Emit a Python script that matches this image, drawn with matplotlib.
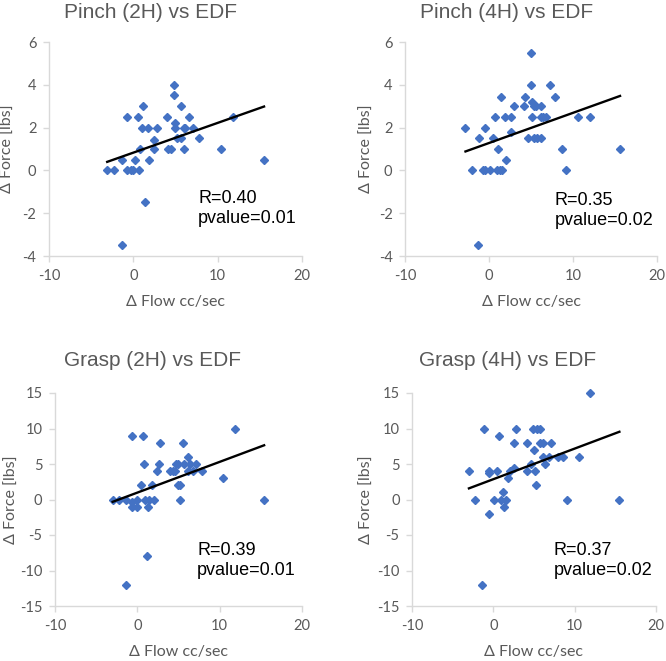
import numpy as np
import matplotlib.pyplot as plt

plt.rcParams["axes.unicode_minus"] = False

# scatter data (delta flow, delta force)
pinch2_x = [-3.1, -2.3, -1.4, -0.8, -0.8, -0.3, 0.0, 0.2, 0.6, 0.7, 0.8, 1.0, 1.2,
            1.35, 1.7, 1.8, 2.5, 2.5, 2.75, 4.0, 4.1, 4.5, 4.8, 4.8, 4.9, 4.9, 5.2,
            5.6, 5.7, 6.0, 6.1, 6.05, 6.65, 7.1, 7.8, 10.4, 11.8, 15.5, -1.4]
pinch2_y = [0, 0, 0.5, 2.5, 0, 0, 0, 0.5, 2.5, 0, 1.0, 2.0, 3.0,
            -1.5, 2.0, 0.5, 1.0, 1.4, 2.0, 2.5, 1.0, 1.0, 4.0, 3.5, 2.2, 2.0, 1.5,
            3.0, 1.5, 2.0, 2.0, 1.0, 2.5, 2.0, 1.5, 1.0, 2.5, 0.5, -3.5]

pinch4_x = [-2.8, -2.0, -1.15, -1.3, -0.7, -0.5, -0.45, 0.1, 0.45, 0.75, 0.9, 1.1,
            1.25, 1.4, 1.55, 1.85, 2.0, 2.6, 2.6, 2.95, 4.15, 4.3, 4.6, 4.95, 4.95,
            5.1, 5.1, 5.3, 5.4, 5.6, 5.7, 6.2, 6.2, 6.2, 6.4, 6.8, 7.3, 7.9, 8.7,
            9.2, 10.6, 12.0, 15.6]
pinch4_y = [2.0, 0, 1.5, -3.5, 0, 0, 2.0, 0, 1.5, 2.5, 0, 1.0,
            0, 3.45, 0, 2.5, 0.5, 2.5, 1.8, 3.0, 3.0, 3.45, 1.5, 5.5, 4.0,
            3.2, 2.5, 1.5, 3.0, 3.0, 1.5, 3.0, 2.5, 1.5, 2.5, 2.5, 4.0, 3.45, 1.0,
            0, 2.5, 2.5, 1.0]

grasp2_x = [-3.0, -2.2, -1.35, -1.4, -0.65, -0.65, -0.6, 0.0, 0.0, 0.4, 0.7, 0.85,
            0.9, 1.15, 1.35, 1.45, 1.8, 2.0, 2.4, 2.6, 2.75, 4.0, 4.3, 4.55, 4.75,
            4.9, 4.95, 5.15, 5.15, 5.55, 5.65, 6.1, 6.15, 6.35, 6.75, 7.1, 7.9,
            10.4, 11.9, 15.4]
grasp2_y = [0, 0, 0, -12, -0.4, -1, 9, 0, -1, 2, 9, 5,
            0, -8, -1, 0, 2, 0, 4, 5, 8, 4, 4, 4, 5,
            5, 2, 2, 0, 8, 5, 6, 4, 5, 4, 5, 4,
            3, 10, 0]

grasp4_x = [-3.0, -2.2, -1.2, -1.35, -0.55, -0.55, -0.55, 0.1, 0.4, 0.7, 0.9, 1.2,
            1.35, 1.5, 1.85, 2.0, 2.5, 2.6, 2.8, 4.1, 4.2, 4.6, 4.9, 4.95, 5.1,
            5.2, 5.4, 5.7, 5.7, 6.1, 6.15, 6.3, 6.8, 7.1, 8.0, 8.6, 9.05, 10.5,
            11.9, 15.5]
grasp4_y = [4, 0, 10, -12, 3.7, 4, -2, 0, 4, 9, 0, 1,
            -1, 0, 3, 4, 4.4, 8, 10, 8, 4, 5, 10, 7, 4,
            2, 10, 10, 8, 6, 8, 5, 6, 8, 6, 6, 0, 6,
            15, 0]

# trend lines (slope, intercept)
fits = [(0.139, 0.83), (0.141, 1.28), (0.433, 0.97), (0.431, 2.86)]

titles = ["Pinch (2H) vs EDF", "Pinch (4H) vs EDF", "Grasp (2H) vs EDF", "Grasp (4H) vs EDF"]
stats = ["R=0.40\npvalue=0.01", "R=0.35\npvalue=0.02",
         "R=0.39\npvalue=0.01", "R=0.37\npvalue=0.02"]
xs = [pinch2_x, pinch4_x, grasp2_x, grasp4_x]
ys = [pinch2_y, pinch4_y, grasp2_y, grasp4_y]
ylims = [(-4, 6), (-4, 6), (-15, 15), (-15, 15)]
ysteps = [2, 2, 5, 5]

W, H = 666, 661
# axes boxes in pixels: left, top, right, bottom
boxes = [(49, 42, 302, 256), (405, 42, 657, 256),
         (55, 393, 302, 606), (412, 393, 656, 606)]
title_pos = [(151, 12), (507, 12), (152, 361), (508, 361)]
stat_pos = [(0.589, 0.308), (0.593, 0.30), (0.576, 0.302), (0.58, 0.302)]
ylab_px = [15, 374, 19, 374]   # right edge of the rotated y label

grey = "#595959"
axis_grey = "#d9d9d9"
blue = "#4472c4"
tick_font = "Lato"

fig = plt.figure(figsize=(W / 100, H / 100), dpi=100)

for i in range(4):
    l, t, r, b = boxes[i]
    ax = fig.add_axes([l / W, 1 - b / H, (r - l) / W, (b - t) / H])
    x = np.array(xs[i])
    y = np.array(ys[i])
    ax.plot(x, y, linestyle="none", marker="D", ms=3.6, color=blue, mec=blue,
            clip_on=False)
    slope, icpt = fits[i]
    lx = np.array([x.min(), x.max()])
    ax.plot(lx, slope * lx + icpt, color="black", lw=1.7)

    ax.set_xlim(-10, 20)
    ax.set_ylim(*ylims[i])
    ax.set_xticks([-10, 0, 10, 20])
    ax.set_yticks(np.arange(ylims[i][0], ylims[i][1] + 0.1, ysteps[i]))
    for s in ["top", "right"]:
        ax.spines[s].set_visible(False)
    for s in ["left", "bottom"]:
        ax.spines[s].set_color(axis_grey)
        ax.spines[s].set_linewidth(1.0)
    ax.tick_params(axis="both", length=4, width=1.0, color=axis_grey,
                   labelcolor=grey, labelsize=10.5, pad=5)
    for lab in ax.get_xticklabels() + ax.get_yticklabels():
        lab.set_family(tick_font)

    ax.set_xlabel("\u0394 Flow cc/sec", family=tick_font, fontsize=11.5,
                  color=grey, labelpad=9)
    ax.set_ylabel("\u0394 Force [lbs]", family=tick_font, fontsize=11.5,
                  color=grey)
    ax.yaxis.set_label_coords((ylab_px[i] - l) / (r - l), 0.5)

    ax.text(stat_pos[i][0], stat_pos[i][1], stats[i], transform=ax.transAxes,
            ha="left", va="top", fontsize=13, family="Liberation Sans",
            color="black", linespacing=1.25)

    tx, ty = title_pos[i]
    fig.text(tx / W, 1 - ty / H, titles[i], ha="center", va="center",
             fontsize=15, family="Liberation Sans", color=grey)

fig.savefig("out.png", dpi=100)
